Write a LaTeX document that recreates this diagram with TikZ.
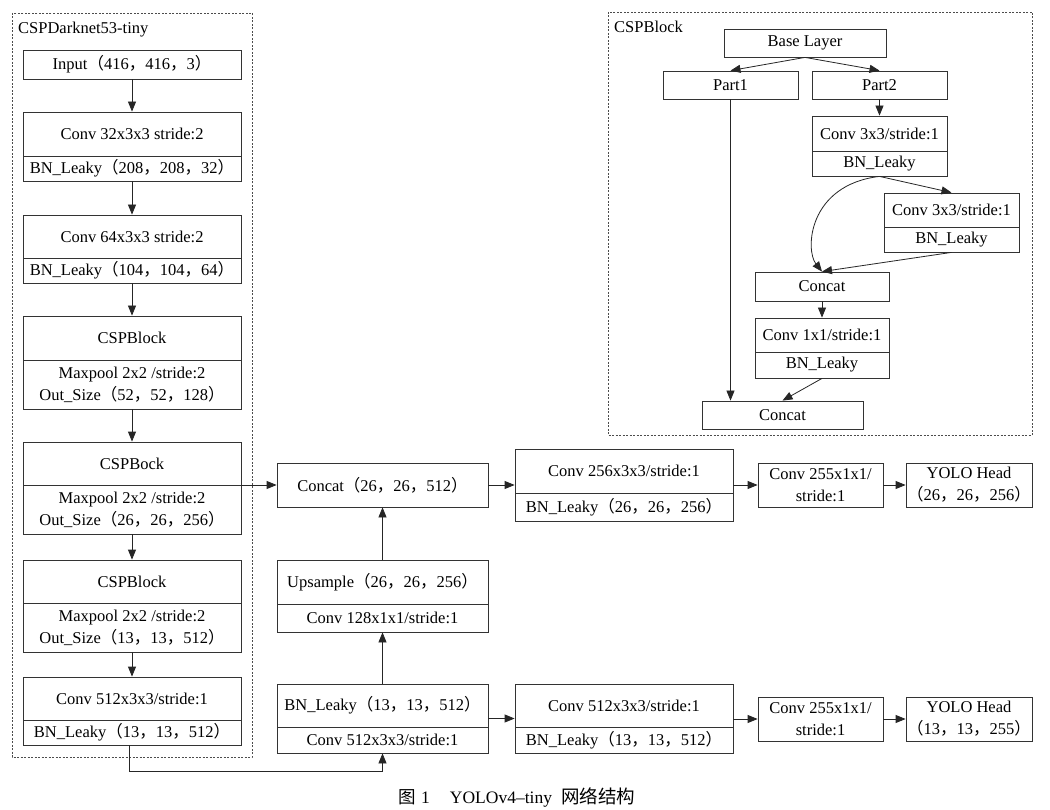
\documentclass[tikz,border=0pt]{standalone}
\usepackage{fontspec}
\setmainfont{Liberation Serif}
\newfontfamily\cjk{Noto Sans CJK SC}
\usetikzlibrary{arrows.meta,fit,calc}
\newcommand\zL{{\cjk （}}
\newcommand\zC{{\cjk ，}}
\newcommand\zR{{\cjk ）}}
\tikzset{
 box/.style={draw=black!80, line width=0.8pt, inner sep=0pt},
 lbl/.style={font=\fontsize{16.5}{22}\selectfont, align=center, inner sep=0pt},
 arr/.style={draw=black!85, line width=0.8pt, -{Triangle[length=10pt,width=8pt]}},
 frame/.style={draw=black!70, line width=0.7pt, dash pattern=on 2pt off 1.5pt},
}
\newcommand\oneb[6]{%
 \node[box, fit={(#2,#3)(#4,#5)}] (#1) {};
 \node[lbl] (#1-txt) at ({(#2+#4)/2},{(#3+#5)/2}) {#6};
}
\newcommand\twob[8]{%
 \node[box, fit={(#2,#3)(#4,#5)}] (#1) {};
 \draw[box] (#2,#6) -- (#4,#6);
 \node[lbl] (#1-top) at ({(#2+#4)/2},{(#3+#6)/2}) {#7};
 \node[lbl] (#1-bot) at ({(#2+#4)/2},{(#6+#5)/2}) {#8};
}
\begin{document}
\begin{tikzpicture}[x=1pt,y=-1pt]
\useasboundingbox[fill=white] (0,0) rectangle (1050,810);
% frames
\draw[frame] (12,13) rectangle (252,757);
\node[lbl, anchor=west] (t1) at (18,30) {CSPDarknet53-tiny};
\draw[frame] (608,12) rectangle (1032,435);
\node[lbl, anchor=west] (t2) at (614,27) {CSPBlock};
% left column
\oneb{inp}{23}{50}{241}{79}{Input\zL 416\zC 416\zC 3\zR}
\twob{b1}{23}{112}{241}{181}{156}{Conv 32x3x3 stride:2}{BN\_Leaky\zL 208\zC 208\zC 32\zR}
\twob{b2}{23}{215}{241}{283}{258}{Conv 64x3x3 stride:2}{BN\_Leaky\zL 104\zC 104\zC 64\zR}
\twob{b3}{23}{316}{241}{409}{360}{CSPBlock}{Maxpool 2x2 /stride:2\\Out\_Size\zL 52\zC 52\zC 128\zR}
\twob{b4}{23}{442}{241}{534}{485}{CSPBock}{Maxpool 2x2 /stride:2\\Out\_Size\zL 26\zC 26\zC 256\zR}
\twob{b5}{23}{560}{241}{652}{603}{CSPBlock}{Maxpool 2x2 /stride:2\\Out\_Size\zL 13\zC 13\zC 512\zR}
\twob{b6}{23}{677}{241}{745}{720}{Conv 512x3x3/stride:1}{BN\_Leaky\zL 13\zC 13\zC 512\zR}
\draw[arr] (inp.south) -- (b1.north);
\draw[arr] (b1.south) -- (b2.north);
\draw[arr] (b2.south) -- (b3.north);
\draw[arr] (b3.south) -- (b4.north);
\draw[arr] (b4.south) -- (b5.north);
\draw[arr] (b5.south) -- (b6.north);
% middle column
\oneb{concatm}{277}{463}{488}{507}{Concat\zL 26\zC 26\zC 512\zR}
\twob{ups}{277}{560}{488}{632}{604}{Upsample\zL 26\zC 26\zC 256\zR}{Conv 128x1x1/stride:1}
\twob{bnl}{277}{684}{488}{753}{727}{BN\_Leaky\zL 13\zC 13\zC 512\zR}{Conv 512x3x3/stride:1}
\coordinate (loop) at (0,771);
\draw[arr] ([xshift=-3pt]b6.south) -- ([xshift=-3pt]b6.south |- loop) -| (bnl.south);
\draw[arr] (bnl.north) -- (ups.south);
\draw[arr] (ups.north) -- (concatm.south);
\draw[arr] (b4.east |- concatm.west) -- (concatm.west);
% right part
\twob{convA}{515}{449}{733}{521}{493}{Conv 256x3x3/stride:1}{BN\_Leaky\zL 26\zC 26\zC 256\zR}
\twob{convB}{515}{684}{733}{753}{727}{Conv 512x3x3/stride:1}{BN\_Leaky\zL 13\zC 13\zC 512\zR}
\oneb{headA}{758}{463}{883}{507}{Conv 255x1x1/\\stride:1}
\oneb{headB}{758}{697}{883}{741}{Conv 255x1x1/\\stride:1}
\oneb{yoloA}{906}{463}{1032}{507}{YOLO Head\\\zL 26\zC 26\zC 256\zR}
\oneb{yoloB}{906}{697}{1032}{741}{YOLO Head\\\zL 13\zC 13\zC 255\zR}
\draw[arr] (concatm.east) -- (convA.west |- concatm.east);
\draw[arr] (convA.east |- headA.west) -- (headA.west);
\draw[arr] (headA.east) -- (yoloA.west);
\draw[arr] (bnl.east) -- (convB.west |- bnl.east);
\draw[arr] (convB.east |- headB.west) -- (headB.west);
\draw[arr] (headB.east) -- (yoloB.west);
% CSPBlock detail
\oneb{base}{724}{29}{886}{57}{Base Layer}
\oneb{p1}{663}{71}{798}{99}{Part1}
\oneb{p2}{812}{71}{947}{99}{Part2}
\twob{c1}{812}{116}{947}{176}{151}{Conv 3x3/stride:1}{BN\_Leaky}
\twob{c2}{884}{193}{1019}{252}{227}{Conv 3x3/stride:1}{BN\_Leaky}
\oneb{cat1}{755}{272}{889}{301}{Concat}
\twob{c3}{755}{318}{889}{378}{352}{Conv 1x1/stride:1}{BN\_Leaky}
\oneb{cat2}{702}{401}{863}{429}{Concat}
\draw[arr] (base.south) -- (p1.north);
\draw[arr] (base.south) -- (p2.north);
\draw[arr] (p2.south) -- (c1.north);
\draw[arr] (c1.south) -- (c2.north);
\draw[arr] (c1.south) .. controls (808,185) and (805,250) .. (cat1.north);
\draw[arr] (c2.south) -- (cat1.north);
\draw[arr] (cat1.south) -- (c3.north);
\draw[arr] (c3.south) -- (cat2.north);
\draw[arr] (p1.south) -- (p1.south |- cat2.north);
% caption
\node[font=\fontsize{17.5}{20}\selectfont, inner sep=0pt, anchor=west] (cap) at (398,797) {{\cjk 图}\hspace{5.5pt}1\hspace{20pt}YOLOv4–tiny\hspace{9pt}{\cjk\fontsize{18.5}{20}\selectfont 网络结构}};
\end{tikzpicture}
\end{document}
